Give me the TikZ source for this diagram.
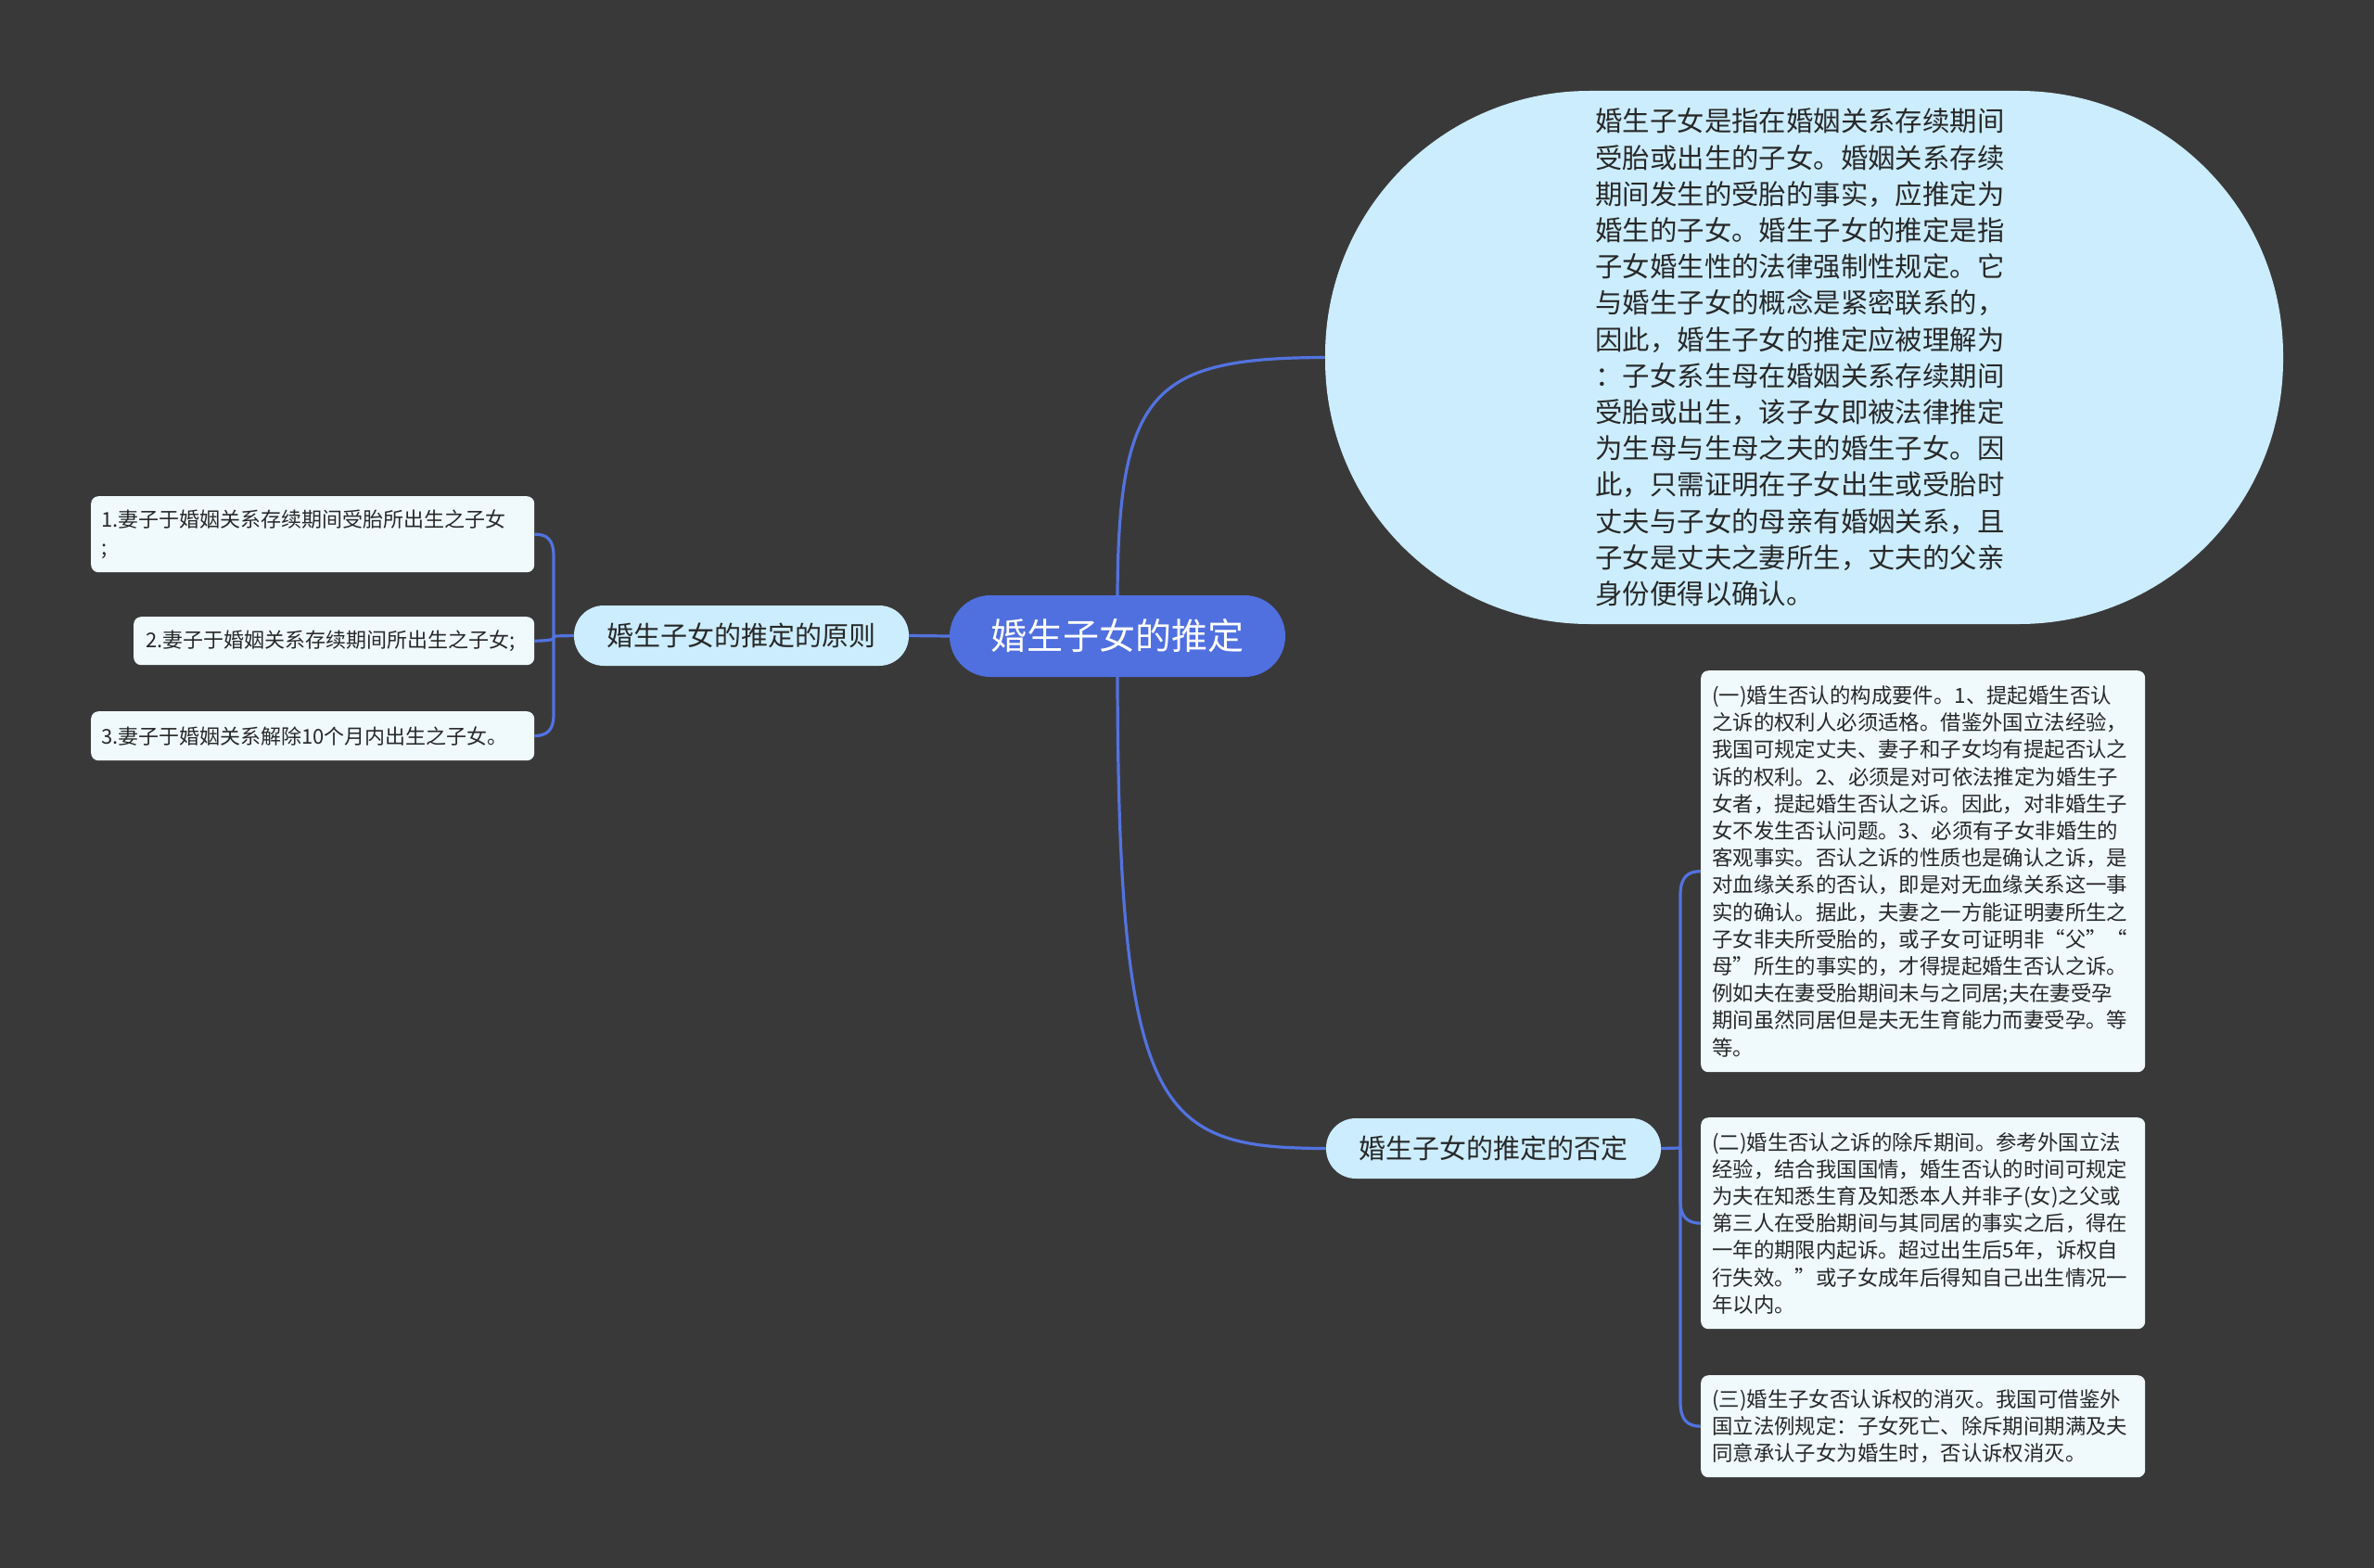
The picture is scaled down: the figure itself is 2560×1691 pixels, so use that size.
\documentclass[tikz,border=0pt]{standalone}
\usepackage{fontspec}
\setmainfont{Noto Sans CJK SC}
\definecolor{bg}{RGB}{58,57,58}
\definecolor{linkblue}{RGB}{82,115,224}
\definecolor{rootblue}{RGB}{80,112,224}
\definecolor{lightblue}{RGB}{204,237,253}
\definecolor{leaffill}{RGB}{240,250,253}
\definecolor{textdark}{RGB}{40,40,40}
\begin{document}
\begin{tikzpicture}[x=1pt,y=-1pt,
  link/.style={draw=linkblue, line width=3.2pt},
  rootbox/.style={fill=rootblue, text=white, rounded corners=44pt, minimum width=362pt, minimum height=88pt, font=\fontsize{39}{47}\selectfont, inner sep=0pt},
  topicbox/.style={fill=lightblue, text=textdark, rounded corners=32pt, minimum width=361pt, minimum height=65pt, font=\fontsize{29}{35}\selectfont, inner sep=0pt},
  bigbox/.style={fill=lightblue, text=textdark, rounded corners=285pt, minimum width=1033pt, minimum height=575pt, align=left, text width=450pt, font=\fontsize{29.4}{39.2}\selectfont, inner sep=0pt},
  leafbox/.style={fill=leaffill, text=textdark, rounded corners=8pt, align=left, font=\fontsize{22}{29.2}\selectfont, inner ysep=0pt, anchor=north west},
  rleaf/.style={leafbox, inner xsep=12pt, text width=455pt, font=\fontsize{22.4}{29.2}\selectfont}
]
\fill[bg] (0,0) rectangle (2560,1691);
\useasboundingbox (0,0) rectangle (2560,1691);

% nodes
\node[rootbox] (root) at (1205,686) {婚生子女的推定};
\node[bigbox] (big) at (1945.5,385.5) {婚生子女是指在婚姻关系存续期间\\受胎或出生的子女。婚姻关系存续\\期间发生的受胎的事实，应推定为\\婚生的子女。婚生子女的推定是指\\子女婚生性的法律强制性规定。它\\与婚生子女的概念是紧密联系的，\\因此，婚生子女的推定应被理解为\\：子女系生母在婚姻关系存续期间\\受胎或出生，该子女即被法律推定\\为生母与生母之夫的婚生子女。因\\此，只需证明在子女出生或受胎时\\丈夫与子女的母亲有婚姻关系，且\\子女是丈夫之妻所生，丈夫的父亲\\身份便得以确认。};
\node[topicbox] (yz) at (799.5,685.5) {婚生子女的推定的原则};
\node[topicbox] (fd) at (1610.5,1238.5) {婚生子女的推定的否定};

\node[leafbox, inner xsep=11pt, text width=456pt, minimum height=82pt] (l1) at (98,535) {1.妻子于婚姻关系存续期间受胎所出生之子女\\;};
\node[leafbox, inner xsep=13pt, text width=406pt, minimum height=52pt] (l2) at (144,665) {2.妻子于婚姻关系存续期间所出生之子女;};
\node[leafbox, inner xsep=11pt, text width=456pt, minimum height=53pt] (l3) at (98,767) {3.妻子于婚姻关系解除10个月内出生之子女。};

\node[rleaf, minimum height=433pt] (r1) at (1834,723) {(一)婚生否认的构成要件。1、提起婚生否认\\之诉的权利人必须适格。借鉴外国立法经验，\\我国可规定丈夫、妻子和子女均有提起否认之\\诉的权利。2、必须是对可依法推定为婚生子\\女者，提起婚生否认之诉。因此，对非婚生子\\女不发生否认问题。3、必须有子女非婚生的\\客观事实。否认之诉的性质也是确认之诉，是\\对血缘关系的否认，即是对无血缘关系这一事\\实的确认。据此，夫妻之一方能证明妻所生之\\子女非夫所受胎的，或子女可证明非“父”“\\母”所生的事实的，才得提起婚生否认之诉。\\例如夫在妻受胎期间未与之同居;夫在妻受孕\\期间虽然同居但是夫无生育能力而妻受孕。等\\等。};
\node[rleaf, minimum height=228pt] (r2) at (1834,1205) {(二)婚生否认之诉的除斥期间。参考外国立法\\经验，结合我国国情，婚生否认的时间可规定\\为夫在知悉生育及知悉本人并非子(女)之父或\\第三人在受胎期间与其同居的事实之后，得在\\一年的期限内起诉。超过出生后5年，诉权自\\行失效。”或子女成年后得知自己出生情况一\\年以内。};
\node[rleaf, minimum height=110pt] (r3) at (1834,1483) {(三)婚生子女否认诉权的消灭。我国可借鉴外\\国立法例规定：子女死亡、除斥期间期满及夫\\同意承认子女为婚生时，否认诉权消灭。};

% junctions
\coordinate (jl) at (597,686);
\coordinate (jr) at (1812,1238);

% connectors
\draw[link] (root.north) .. controls (1206,420) and (1245,386) .. (big.west);
\draw[link] (root.south) .. controls (1206,1205) and (1250,1238) .. (fd.west);
\draw[link] (root.west) -- (yz.east);

\draw[link] (yz.west) -- (jl);
\draw[link] (jl) -- (597,600) .. controls (597,582) and (590,576) .. (l1.east);
\draw[link] (jl) -- (597,688) .. controls (597,690) and (590,691) .. (l2.east);
\draw[link] (jl) -- (597,770) .. controls (597,788) and (590,793) .. (l3.east);

\draw[link] (fd.east) -- (jr);
\draw[link] (jr) -- (1812,965) .. controls (1812,946) and (1820,939.5) .. (r1.west);
\draw[link] (jr) -- (1812,1295) .. controls (1812,1313) and (1820,1319) .. (r2.west);
\draw[link] (jr) -- (1812,1512) .. controls (1812,1532) and (1820,1538) .. (r3.west);
\end{tikzpicture}
\end{document}
